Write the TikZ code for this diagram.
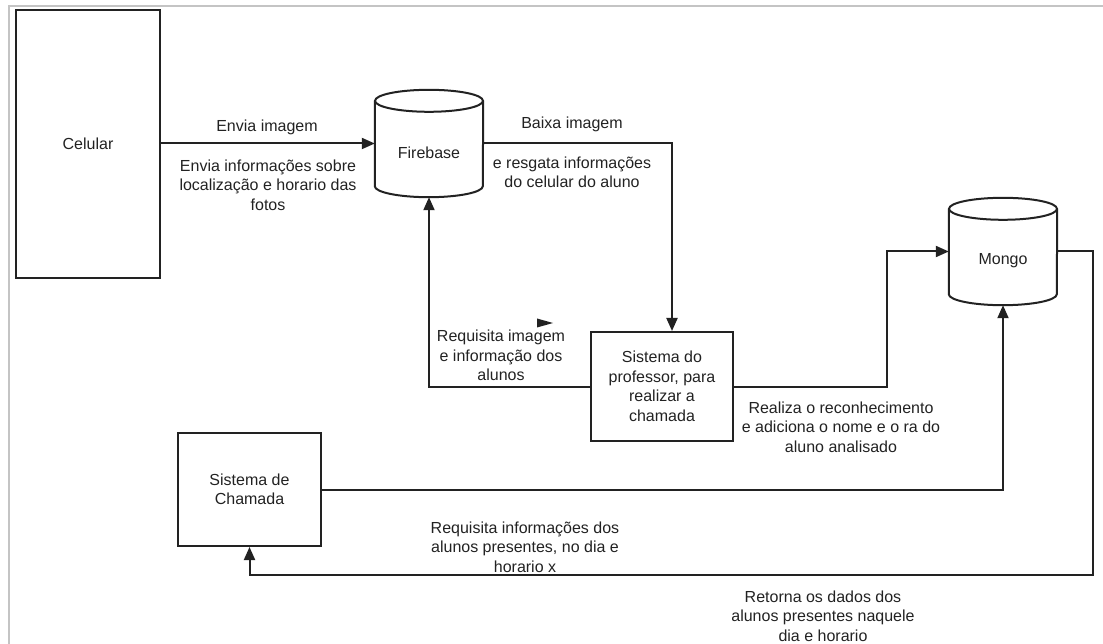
\documentclass[tikz,border=0pt]{standalone}
\usepackage{fontspec}
\setmainfont{Liberation Sans}
\usetikzlibrary{arrows.meta,calc}
\definecolor{ink}{HTML}{222222}
\definecolor{framegray}{HTML}{C4C4C4}
\tikzset{
  ln/.style={line width=2pt, draw=ink},
  arr/.style={ln, -{Triangle[length=13pt,width=11pt]}},
  box/.style={ln, rectangle, inner sep=0pt, align=center, text=ink},
  lbl/.style={align=center, text=ink, inner sep=0pt},
  db/.style={minimum width=108pt, minimum height=107pt, inner sep=0pt, text=ink},
}
\begin{document}
\begin{tikzpicture}[x=1pt,y=-1pt,font=\fontsize{16pt}{19.5pt}\selectfont]
\useasboundingbox (0,0) rectangle (1103,644);
% frame
\draw[framegray, line width=2pt] (8.5,644) -- (8.5,6.5) -- (1103,6.5);

% nodes
\node[box, minimum width=144pt, minimum height=268pt] (cel) at (88,144) {Celular};
\node[db] (fire) at (429,143.5) {};
\node[lbl] (firetxt) at (429,153) {Firebase};
\node[db] (mongo) at (1003,251.5) {};
\node[lbl] (mongotxt) at (1003,261) {Mongo};
\node[box, minimum width=142pt, minimum height=109pt] (prof) at (662,386.5) {Sistema do\\professor, para\\realizar a\\chamada};
\node[box, minimum width=143pt, minimum height=113pt] (cham) at (249.5,489.5) {Sistema de\\Chamada};

% cylinders
\foreach \n in {fire,mongo}{
  \draw[ln] ($(\n.north)+(0,11)$) ellipse [x radius=54pt, y radius=11pt];
  \draw[ln] ($(\n.north west)+(0,11)$) -- ($(\n.south west)+(0,-11)$)
     arc[start angle=180, end angle=360, x radius=54pt, y radius=11pt]
     -- ($(\n.north east)+(0,11)$);
}

% connectors
\draw[arr] (cel.east |- fire.west) -- (fire.west);
\draw[arr] (fire.east) -- ([xshift=10pt]fire.east -| prof.north) -- ([xshift=10pt]prof.north);
\draw[arr] (prof.west) -- (prof.west -| fire.south) -- (fire.south);
\draw[arr] (prof.east) -- ($(prof.east)+(153,0)$) |- (mongo.west);
\draw[arr] (cham.east) -- (cham.east -| mongo.south) -- (mongo.south);
\draw[arr] (mongo.east) -- ++(36,0) |- ($(cham.south)+(0,28)$) -- (cham.south);

% stray arrowhead
\fill[ink] (537,318.5) -- (553,323) -- (537,327.5) -- cycle;

% labels
\node[lbl] (l1) at (267,127) {Envia imagem};
\node[lbl] (l2) at (268,185) {Envia informações sobre\\localização e horario das\\fotos};
\node[lbl] (l3) at (572,124) {Baixa imagem};
\node[lbl] (l4) at (572,172.5) {e resgata informações\\do celular do aluno};
\node[lbl] (l5) at (501,355.5) {Requisita imagem\\e informação dos\\alunos};
\node[lbl] (l6) at (841,427) {Realiza o reconhecimento\\e adiciona o nome e o ra do\\aluno analisado};
\node[lbl] (l7) at (525,547) {Requisita informações dos\\alunos presentes, no dia e\\horario x};
\node[lbl] (l8) at (823,616) {Retorna os dados dos\\alunos presentes naquele\\dia e horario};
\end{tikzpicture}
\end{document}
